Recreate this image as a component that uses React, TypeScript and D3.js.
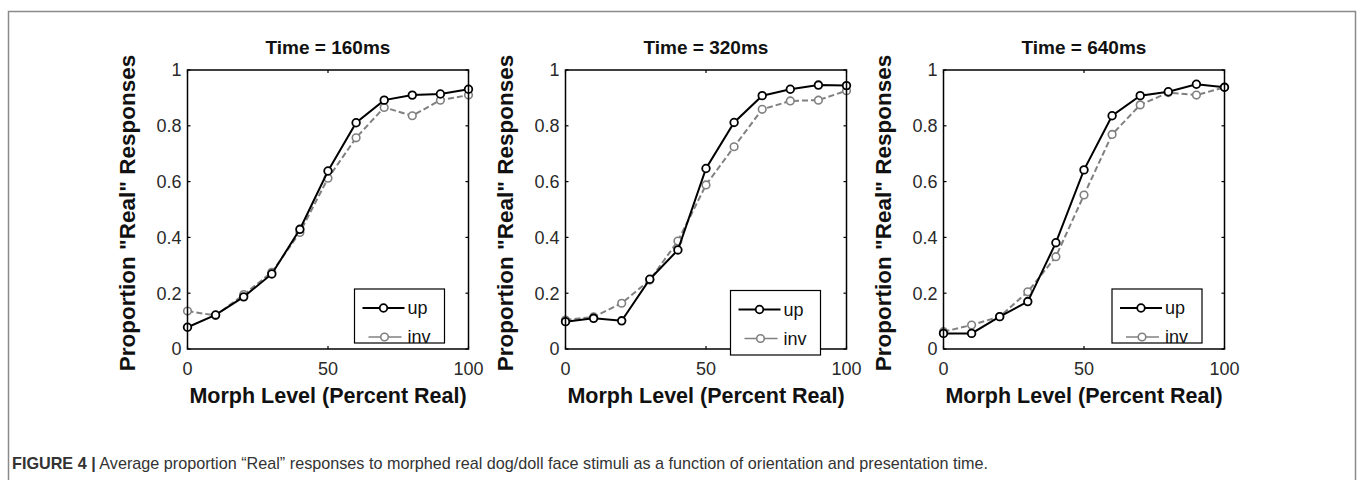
import React from "react";
import * as d3 from "d3";

const morphLevels = [0, 10, 20, 30, 40, 50, 60, 70, 80, 90, 100];
const panelTitles = ["Time = 160ms", "Time = 320ms", "Time = 640ms"];
const up160 = [0.078, 0.122, 0.187, 0.269, 0.429, 0.638, 0.811, 0.892, 0.91, 0.914, 0.931];
const inv160 = [0.136, 0.12, 0.195, 0.275, 0.418, 0.612, 0.757, 0.866, 0.836, 0.892, 0.91];
const up320 = [0.098, 0.11, 0.101, 0.25, 0.355, 0.647, 0.812, 0.908, 0.931, 0.946, 0.944];
const inv320 = [0.104, 0.115, 0.164, 0.247, 0.387, 0.588, 0.725, 0.859, 0.889, 0.892, 0.926];
const up640 = [0.056, 0.056, 0.116, 0.17, 0.381, 0.642, 0.836, 0.908, 0.922, 0.949, 0.938];
const inv640 = [0.062, 0.086, 0.116, 0.205, 0.331, 0.552, 0.769, 0.875, 0.919, 0.91, 0.938];
const upSeries = [up160, up320, up640];
const invSeries = [inv160, inv320, inv640];
const yTicks = [0, 0.2, 0.4, 0.6, 0.8, 1];
const xTicks = [0, 50, 100];
const seriesNames = ["up", "inv"];
const yLabel = "Proportion \"Real\" Responses";
const xLabel = "Morph Level (Percent Real)";
const captionBold = "FIGURE 4 |";
const captionText = " Average proportion \u201CReal\u201D responses to morphed real dog/doll face stimuli as a function of orientation and presentation time.";

const W = 1357;
const H = 480;
const FONT = "'Liberation Sans', Arial, Helvetica, sans-serif";
const panelLefts = [187.5, 565.5, 943.5];
const plotW = 281;
const plotTop = 70;
const plotBottom = 349;
const legendBoxes = [
  { dx: -114, top: 289, bottom: 343 },
  { dx: -116, top: 290.5, bottom: 355 },
  { dx: -112.5, top: 289, bottom: 343 },
];
const GRAY = "#808080";

function Panel({ idx }: { idx: number }) {
  const left = panelLefts[idx];
  const right = left + plotW;
  const x = d3.scaleLinear().domain([0, 100]).range([left, right]);
  const y = d3.scaleLinear().domain([0, 1]).range([plotBottom, plotTop]);
  const line = d3
    .line<number>()
    .x((_, i) => x(morphLevels[i]))
    .y((d) => y(d));
  const up = upSeries[idx];
  const inv = invSeries[idx];
  const lg = legendBoxes[idx];
  const lx = right + lg.dx;
  const tickLen = 3;
  const cx = (left + right) / 2;
  return (
    <g>
      <rect x={left} y={plotTop} width={plotW} height={plotBottom - plotTop} fill="white" />
      <text x={cx} y={54} textAnchor="middle" fontFamily={FONT} fontWeight="bold" fontSize={19} fill="#111">
        {panelTitles[idx]}
      </text>
      {yTicks.map((t) => (
        <g key={"y" + t}>
          <line x1={left} x2={left + tickLen} y1={y(t)} y2={y(t)} stroke="black" strokeWidth={1.2} />
          <line x1={right} x2={right - tickLen} y1={y(t)} y2={y(t)} stroke="black" strokeWidth={1.2} />
          <text x={left - 6} y={y(t)} dy="0.36em" textAnchor="end" fontFamily={FONT} fontSize={18} fill="#2a2a2a">
            {d3.format("~g")(t)}
          </text>
        </g>
      ))}
      {xTicks.map((t) => (
        <g key={"x" + t}>
          <line x1={x(t)} x2={x(t)} y1={plotBottom} y2={plotBottom - tickLen} stroke="black" strokeWidth={1.2} />
          <line x1={x(t)} x2={x(t)} y1={plotTop} y2={plotTop + tickLen} stroke="black" strokeWidth={1.2} />
          <text x={x(t)} y={375} textAnchor="middle" fontFamily={FONT} fontSize={18} fill="#2a2a2a">
            {t}
          </text>
        </g>
      ))}
      <path d={line(inv) || ""} fill="none" stroke={GRAY} strokeWidth={2} strokeDasharray="6,3" />
      {inv.map((v, i) => (
        <circle key={"i" + i} cx={x(morphLevels[i])} cy={y(v)} r={3.8} fill="white" stroke={GRAY} strokeWidth={1.6} />
      ))}
      <path d={line(up) || ""} fill="none" stroke="black" strokeWidth={2} />
      {up.map((v, i) => (
        <circle key={"u" + i} cx={x(morphLevels[i])} cy={y(v)} r={3.8} fill="white" stroke="black" strokeWidth={1.8} />
      ))}
      <rect x={left} y={plotTop} width={plotW} height={plotBottom - plotTop} fill="none" stroke="black" strokeWidth={1.5} />
      <rect x={lx} y={lg.top} width={90} height={lg.bottom - lg.top} fill="white" stroke="black" strokeWidth={1.2} />
      <line x1={lx + 8} x2={lx + 50} y1={lg.top + 19} y2={lg.top + 19} stroke="black" strokeWidth={2.2} />
      <circle cx={lx + 29} cy={lg.top + 19} r={3.8} fill="white" stroke="black" strokeWidth={1.8} />
      <text x={lx + 53} y={lg.top + 19} dy="0.36em" fontFamily={FONT} fontSize={18} fill="#111">
        {seriesNames[0]}
      </text>
      <line x1={lx + 14} x2={lx + 47} y1={lg.top + 48} y2={lg.top + 48} stroke={GRAY} strokeWidth={1.6} />
      <circle cx={lx + 30} cy={lg.top + 48} r={3.8} fill="white" stroke={GRAY} strokeWidth={1.6} />
      <text x={lx + 53} y={lg.top + 48} dy="0.36em" fontFamily={FONT} fontSize={18} fill="#111">
        {seriesNames[1]}
      </text>
      <text x={cx} y={402.5} textAnchor="middle" fontFamily={FONT} fontWeight="bold" fontSize={21.5} fill="#111">
        {xLabel}
      </text>
      <text
        transform={`translate(${left - 53},${213}) rotate(-90)`}
        textAnchor="middle"
        fontFamily={FONT}
        fontWeight="bold"
        fontSize={22.5}
        fill="#111"
      >
        {yLabel}
      </text>
    </g>
  );
}

export default function App() {
  return (
    <svg width={W} height={H} style={{ position: "absolute", left: 0, top: 0, background: "white" }}>
      <rect x={0} y={0} width={W} height={H} fill="white" />
      <path d={`M8.5,${H + 5} V11.5 H1355.5 V${H + 5}`} fill="none" stroke="#8a8a8a" strokeWidth={1.5} />
      {panelTitles.map((_, i) => (
        <Panel key={i} idx={i} />
      ))}
      <text x={12} y={469} fontFamily={FONT} fontSize={16.2} fill="#333">
        <tspan fontWeight="bold">{captionBold}</tspan>
        <tspan>{captionText}</tspan>
      </text>
    </svg>
  );
}
